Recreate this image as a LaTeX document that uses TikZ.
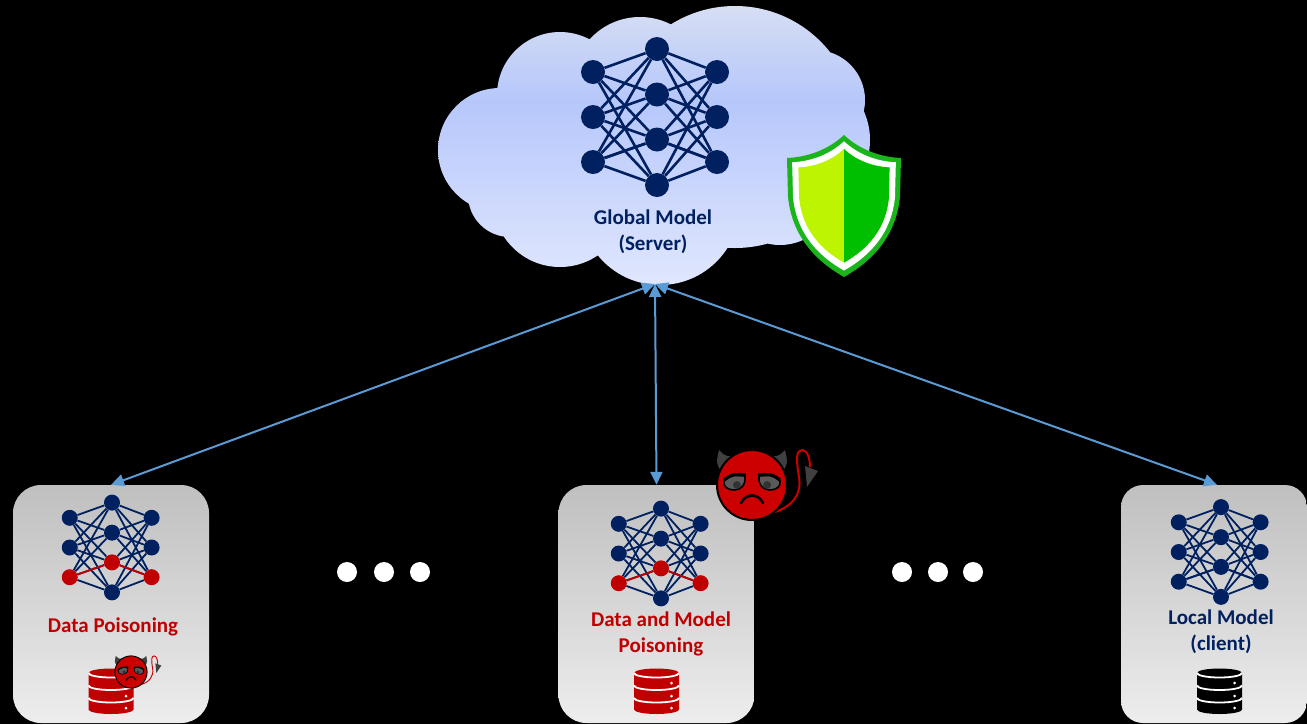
\documentclass[tikz,border=0pt]{standalone}
\usepackage{fontspec}
\setmainfont{Carlito}
\usetikzlibrary{arrows.meta}

\definecolor{navy}{HTML}{002060}
\definecolor{poison}{HTML}{C00000}
\definecolor{linkblue}{HTML}{5B9BD5}
\definecolor{devilred}{HTML}{CC0000}
\definecolor{horngray}{HTML}{404040}
\definecolor{eyegray}{HTML}{5A5A5A}
\definecolor{shieldgreen}{HTML}{1AB51A}
\definecolor{shieldlime}{HTML}{BDF500}
\definecolor{shieldright}{HTML}{00BF00}
\definecolor{cloudtop}{HTML}{D6DEF3}
\definecolor{cloudmid}{HTML}{B6C7FB}
\definecolor{cloudbot}{HTML}{E0E7FD}

% sky-blue band a third of the way down the cloud
\pgfdeclareverticalshading{cloudshade}{100bp}{%
  color(0bp)=(cloudbot); color(25bp)=(cloudbot); color(58bp)=(cloudmid);
  color(75bp)=(cloudtop); color(100bp)=(cloudtop)}

% neural network: prefix, middle-column x, centre y, scale, node radius, edge width, colour of the third row
\newcommand{\nnet}[7]{%
  \node[neuron, minimum size={2*#5}] (#1l1) at ({#2-64*#4},{#3-45*#4}) {};
  \node[neuron, minimum size={2*#5}] (#1l2) at ({#2-64*#4},{#3}) {};
  \node[neuron, minimum size={2*#5}, fill=#7] (#1l3) at ({#2-64*#4},{#3+45*#4}) {};
  \node[neuron, minimum size={2*#5}] (#1m1) at ({#2},{#3-68*#4}) {};
  \node[neuron, minimum size={2*#5}] (#1m2) at ({#2},{#3-22.5*#4}) {};
  \node[neuron, minimum size={2*#5}, fill=#7] (#1m3) at ({#2},{#3+22.5*#4}) {};
  \node[neuron, minimum size={2*#5}] (#1m4) at ({#2},{#3+68*#4}) {};
  \node[neuron, minimum size={2*#5}] (#1r1) at ({#2+60*#4},{#3-45*#4}) {};
  \node[neuron, minimum size={2*#5}] (#1r2) at ({#2+60*#4},{#3}) {};
  \node[neuron, minimum size={2*#5}, fill=#7] (#1r3) at ({#2+60*#4},{#3+45*#4}) {};
  \foreach \i in {1,2,3}{\foreach \j in {1,2,3,4}{
    \draw[navy, line width=#6] (#1l\i) -- (#1m\j);
    \draw[navy, line width=#6] (#1m\j) -- (#1r\i);}}
  \draw[#7, line width=#6] (#1l3) -- (#1m3);
  \draw[#7, line width=#6] (#1m3) -- (#1r3);
}

% database stack: centre x, top y, colour
\newcommand{\dbicon}[3]{%
  \fill[#3] (#1-22.5,#2+5) -- (#1-22.5,#2+41.5)
    arc[start angle=180, end angle=0, x radius=22.5, y radius=4.5]
    -- (#1+22.5,#2+5) arc[start angle=0, end angle=-180, x radius=22.5, y radius=4.5] -- cycle;
  \foreach \lv in {5,17.5,30}{
    \draw[white, line width=1.8pt] (#1-22.5,#2+\lv)
      arc[start angle=180, end angle=0, x radius=22.5, y radius=4.5];}
  \foreach \dv in {15,28,40}{\fill[white] (#1+15,#2+\dv) circle (1.5);}
}

% shield outline, centred on the origin
\newcommand{\shield}[1]{%
  \fill[#1] (0,-70) .. controls (-15,-56) and (-35,-48) .. (-57,-47) -- (-56,-8)
    .. controls (-52,30) and (-30,55) .. (0,72)
    .. controls (30,55) and (52,30) .. (56,-8) -- (57,-47)
    .. controls (35,-48) and (15,-56) .. (0,-70) -- cycle;
}

% grumpy devil emoji: centre x, centre y, scale
\newcommand{\devil}[3]{%
  \begin{scope}[shift={(#1,#2)}, scale=#3]
    \draw[devilred, line width={#3*2pt}] (20,28) .. controls (40,22) and (50,10) .. (47,-8)
      .. controls (44,-25) and (44,-35) .. (50,-35) .. controls (56,-35) and (58,-25) .. (58,-18);
    \fill[horngray] (53,-19) -- (66,-14) -- (55,2) -- cycle;
    \fill[horngray] (-30,-12) .. controls (-36,-22) .. (-33,-35) .. controls (-26,-28) .. (-13,-30) -- cycle;
    \fill[horngray] (30,-12) .. controls (36,-22) .. (33,-35) .. controls (26,-28) .. (13,-30) -- cycle;
    \filldraw[fill=devilred, draw=black, line width={#3*2pt}] (0,0) circle (35);
    \filldraw[fill=eyegray, draw=black, line width={#3*1.6pt}] (-28,-4) .. controls (-20,-10) .. (-7,-9)
      .. controls (-6,1) and (-12,5) .. (-18,5) .. controls (-25,5) and (-29,1) .. (-28,-4) -- cycle;
    \filldraw[fill=eyegray, draw=black, line width={#3*1.6pt}] (28,-4) .. controls (20,-10) .. (7,-9)
      .. controls (6,1) and (12,5) .. (18,5) .. controls (25,5) and (29,1) .. (28,-4) -- cycle;
    \fill[black!80] (-15,0) circle (4);
    \fill[black!80] (15,0) circle (4);
    \draw[black, line width={#3*3pt}] (-28,-5) .. controls (-20,-11) .. (-6,-10);
    \draw[black, line width={#3*3pt}] (28,-5) .. controls (20,-11) .. (6,-10);
    \draw[black, line width={#3*2.6pt}, line cap=round] (-11,18) .. controls (-6,8) and (6,8) .. (11,18);
  \end{scope}
}

\begin{document}
\begin{tikzpicture}[x=1pt, y=-1pt,
  neuron/.style={circle, fill=navy, inner sep=0pt},
  clientbox/.style={rectangle, rounded corners=28pt, minimum width=196pt, minimum height=238pt,
    top color=black!25, bottom color=black!7, inner sep=0pt},
  label/.style={font=\bfseries\fontsize{21}{26}\selectfont, align=center},
  link/.style={linkblue, line width=2pt,
    arrows={Triangle[length=13pt, width=12pt]-Triangle[length=13pt, width=12pt]}},
  ellipsisdot/.style={circle, fill=white, minimum size=20pt, inner sep=0pt}]

\fill[black] (0,0) rectangle (1307,724);
\useasboundingbox (0,0) rectangle (1307,724);

% server cloud
\path[shading=cloudshade]
  (735,127) circle (121) (640,85) circle (68) (560,95) circle (63)
  (500,150) circle (62) (510,195) circle (42) (560,200) circle (67)
  (660,205) circle (80) (780,190) circle (55) (800,140) circle (70)
  (815,100) circle (50) (620,150) circle (80);
\coordinate (server) at (655,284);

% shield
\begin{scope}[shift={(844,205)}]
  \shield{shieldgreen}
  \begin{scope}[scale=0.91]\shield{white}\end{scope}
  \begin{scope}[scale=0.8]
    \shield{shieldlime}
    \begin{scope}\clip (0,-80) rectangle (80,80); \shield{shieldright}\end{scope}
  \end{scope}
\end{scope}

% clients
\node[clientbox] (boxL) at (111,604) {};
\node[clientbox] (boxM) at (656.5,604) {};
\node[clientbox, minimum width=186pt, rounded corners=22pt] (boxR) at (1214,604) {};

% links between server and clients
\draw[link] (server) -- (boxL.north);
\draw[link] (server) -- (boxM.north);
\draw[link] (server) -- ([xshift=3pt]boxR.north);

% models
\nnet{g}{657}{117}{1}{12}{2.6pt}{navy}
\nnet{a}{112}{547.5}{0.66}{8}{1.8pt}{poison}
\nnet{b}{661}{553.5}{0.66}{8}{1.8pt}{poison}
\nnet{c}{1221}{552}{0.66}{8}{1.8pt}{navy}

% labels
\node[label, text=navy] (glabel) at (653,232) {Global Model\\(Server)};
\node[label, text=poison] (alabel) at (113,627) {Data Poisoning};
\node[label, text=poison] (blabel) at (661,634) {Data and Model\\Poisoning};
\node[label, text=navy] (clabel) at (1221,632) {Local Model\\(client)};

% local data
\dbicon{111}{668}{poison}
\dbicon{656.5}{668}{poison}
\dbicon{1219.5}{668}{black}

% attackers
\devil{131}{672}{0.46}
\devil{752}{485}{1}

% more clients
\node[ellipsisdot] (d1) at (347,572) {};
\node[ellipsisdot] (d2) at (384,572) {};
\node[ellipsisdot] (d3) at (420,572) {};
\node[ellipsisdot] (d4) at (902,572) {};
\node[ellipsisdot] (d5) at (938,572) {};
\node[ellipsisdot] (d6) at (973,572) {};
\end{tikzpicture}
\end{document}
